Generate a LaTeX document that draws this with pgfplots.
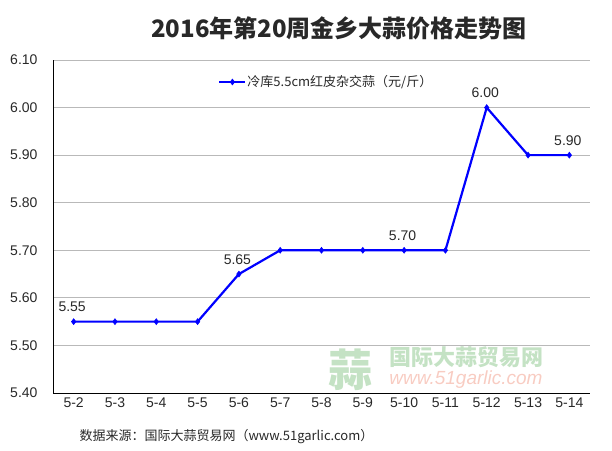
\documentclass[border=0pt]{standalone}
\usepackage{fontspec}
\setmainfont{Liberation Sans}
\newfontfamily\cjk{Noto Sans CJK SC}
\usepackage{pgfplots}
\pgfplotsset{compat=1.18}
\definecolor{lineblue}{RGB}{0,0,255}
\definecolor{wmgreen}{RGB}{196,226,196}
\definecolor{wmred}{RGB}{248,204,194}
\definecolor{txt}{RGB}{40,40,40}

\begin{document}
\begin{tikzpicture}[x=1pt,y=1pt]
\path (0,0) rectangle (612,450);
%% watermark
\node[text=wmgreen, font=\cjk\bfseries\fontsize{44}{44}\selectfont] at (350,80) {蒜};
\node[text=wmgreen, font=\cjk\bfseries\fontsize{22}{22}\selectfont, inner sep=0pt] at (466,93) {国际大蒜贸易网};
\node[text=wmred, font=\itshape\fontsize{19}{19}\selectfont, inner sep=0pt] at (466,70) {www.51garlic.com};
\begin{axis}[
  at={(53pt,57pt)}, anchor=south west,
  scale only axis, width=537pt, height=333pt,
  xmin=-0.5, xmax=12.5, ymin=5.4, ymax=6.1,
  xtick={0,...,12},
  xticklabels={5-2,5-3,5-4,5-5,5-6,5-7,5-8,5-9,5-10,5-11,5-12,5-13,5-14},
  ytick={5.4,5.5,5.6,5.7,5.8,5.9,6.0,6.1},
  yticklabel style={/pgf/number format/fixed, /pgf/number format/fixed zerofill,
                    /pgf/number format/precision=2,
                    /pgf/number format/assume math mode=true, xshift=-12pt},
  xticklabel style={yshift=-1pt},
  tick label style={font=\fontsize{14}{16}\selectfont, text=txt},
  major tick length=0pt,
  axis x line*=bottom, axis y line*=left,
  axis line style={black, line width=1pt, -},
  ymajorgrids, grid style={gray!55, line width=0.8pt},
  legend style={at={(0.508,0.934)}, anchor=center, draw=none, fill=none,
                font=\cjk\fontsize{13}{15}\selectfont, text=txt,
                inner sep=0pt, nodes={inner sep=1pt}},
  legend image code/.code={
    \draw[#1] (0pt,0pt) -- (26pt,0pt);
    \draw[#1, only marks] plot coordinates {(13pt,0pt)};
  },
]
\addplot[lineblue, line width=2.2pt, mark=diamond*, mark size=3pt,
         mark options={fill=lineblue, line width=0.5pt}]
  coordinates {(0,5.55)(1,5.55)(2,5.55)(3,5.55)(4,5.65)(5,5.70)(6,5.70)
               (7,5.70)(8,5.70)(9,5.70)(10,6.00)(11,5.90)(12,5.90)};
\addlegendentry{冷库5.5cm红皮杂交蒜（元/斤）}
\addplot[draw=none, forget plot, point meta=y,
         nodes near coords,
         nodes near coords style={font=\fontsize{14}{16}\selectfont, text=txt,
           /pgf/number format/fixed, /pgf/number format/fixed zerofill,
           /pgf/number format/precision=2,
           /pgf/number format/assume math mode=true},
         every node near coord/.append style={yshift=6pt, xshift=-1.5pt}]
  coordinates {(0,5.55)(4,5.65)(8,5.70)(10,6.00)(12,5.90)};
\end{axis}
\node[font=\cjk\bfseries\fontsize{24}{24}\selectfont, text=txt] at (339,422)
  {2016年第20周金乡大蒜价格走势图};
\node[anchor=west, font=\cjk\fontsize{13}{15}\selectfont, text=txt] at (76,13)
  {数据来源：国际大蒜贸易网（www.51garlic.com）};
\end{tikzpicture}
\end{document}
